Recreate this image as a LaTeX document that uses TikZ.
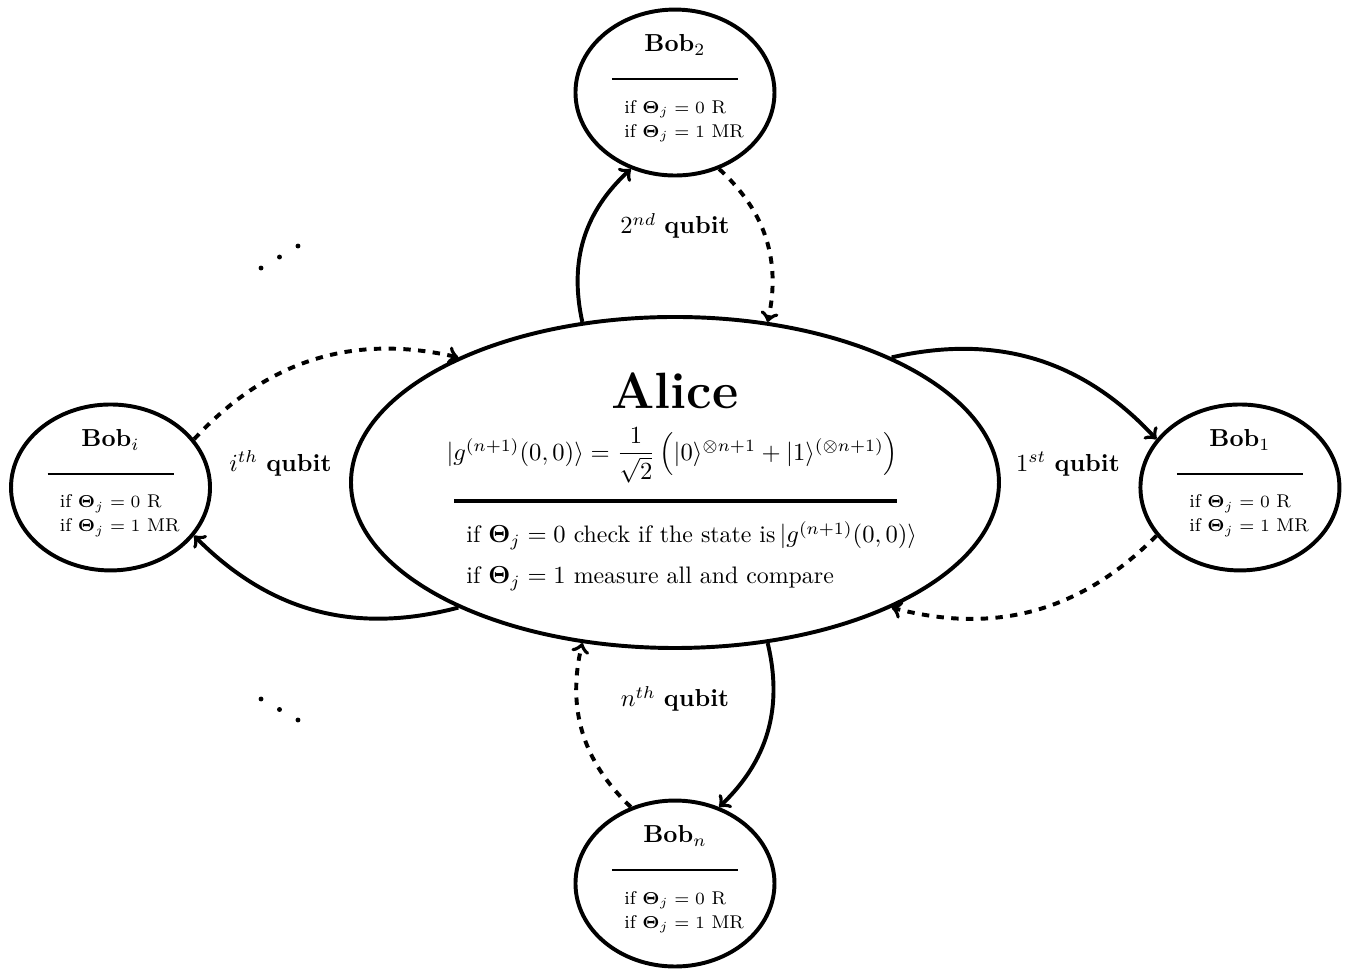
\documentclass[tikz,border=0pt]{standalone}
\usepackage{amsmath,amssymb}
\usepackage{tikz}
\usetikzlibrary{shapes.geometric}

\tikzset{
  party/.style={draw, ellipse, line width=1.6pt, inner sep=0pt},
  send/.style={->, line width=1.6pt},
  reply/.style={->, line width=1.6pt, dashed},
  txt/.style={inner sep=0pt, anchor=base},
  txtleft/.style={inner sep=0pt, anchor=base west},
}

\begin{document}
\begin{tikzpicture}
  \useasboundingbox (-9.643,-7.021) rectangle (9.829,6.893);
  % Alice
  \node[party, minimum width=9.257cm, minimum height=4.729cm] (alice) at (0,0) {};
  \node[txt] (alice-title) at (0,1.05) {\huge\bfseries Alice};
  \node[txtleft, font=\fontsize{9.7}{11.6}\selectfont] (alice-state) at (-3.271,0.321)
    {$|g^{(n+1)}(0,0)\rangle = \dfrac{1}{\sqrt{2}}\,\Bigl(|0\rangle^{\otimes n+1} + |1\rangle^{(\otimes n+1)}\Bigr)$};
  \draw[line width=1.3pt] (-3.157,-0.264) -- (3.171,-0.264);
  \node[txtleft, font=\fontsize{9.7}{11.6}\selectfont] (alice-zero) at (-2.986,-0.864)
    {if $\boldsymbol{\Theta}_j = 0$ check if the state is$\,|g^{(n+1)}(0,0)\rangle$};
  \node[txtleft, font=\fontsize{9.7}{11.6}\selectfont] (alice-one) at (-2.986,-1.45)
    {if $\boldsymbol{\Theta}_j = 1$ measure all and compare};
  % Bobs
  \foreach \who/\lbl/\x/\y in {bobtwo/2/0/5.571, bobone/1/8.071/-0.071, bobn/n/0/-5.729, bobi/i/-8.064/-0.071}
  {
    \node[party, minimum width=2.843cm, minimum height=2.371cm] (\who) at (\x,\y) {};
    \node[txt] (\who-title) at (\x,\y+0.579) {\textbf{Bob}$_{\lbl}$};
    \draw[line width=0.9pt] (\x-0.9,\y+0.193) -- (\x+0.9,\y+0.193);
    \node[txtleft, font=\fontsize{7.5}{9}\selectfont] (\who-r) at (\x-0.729,\y-0.293) {if $\boldsymbol{\Theta}_j = 0$ R};
    \node[txtleft, font=\fontsize{7.5}{9}\selectfont] (\who-mr) at (\x-0.729,\y-0.636) {if $\boldsymbol{\Theta}_j = 1$ MR};
  }
  % qubits out, answers back
  \draw[send] (alice.120) to[bend left] (bobtwo.240);
  \draw[reply] (bobtwo.300) to[bend left] (alice.60);
  \draw[send] (alice.30) to[bend left] (bobone.150);
  \draw[reply] (bobone.210) to[bend left] (alice.-30);
  \draw[send] (alice.-60) to[bend left] (bobn.60);
  \draw[reply] (bobn.120) to[bend left] (alice.-120);
  \draw[send] (alice.210) to[bend left] (bobi.-30);
  \draw[reply] (bobi.30) to[bend left] (alice.150);
  \node[txt] (second) at (0,3.55) {$2^{nd}$ \textbf{qubit}};
  \node[txt] (first) at (5.614,0.164) {$1^{st}$ \textbf{qubit}};
  \node[txt] (nth) at (0,-3.207) {$n^{th}$ \textbf{qubit}};
  \node[txt] (ith) at (-5.636,0.164) {$i^{th}$ \textbf{qubit}};
  % dots
  \foreach \k in {0,1,2}
  {
    \fill (-5.914+0.264*\k, 3.064+0.157*\k) circle (1pt);
    \fill (-5.914+0.264*\k, -3.093-0.15*\k) circle (1pt);
  }
\end{tikzpicture}
\end{document}
